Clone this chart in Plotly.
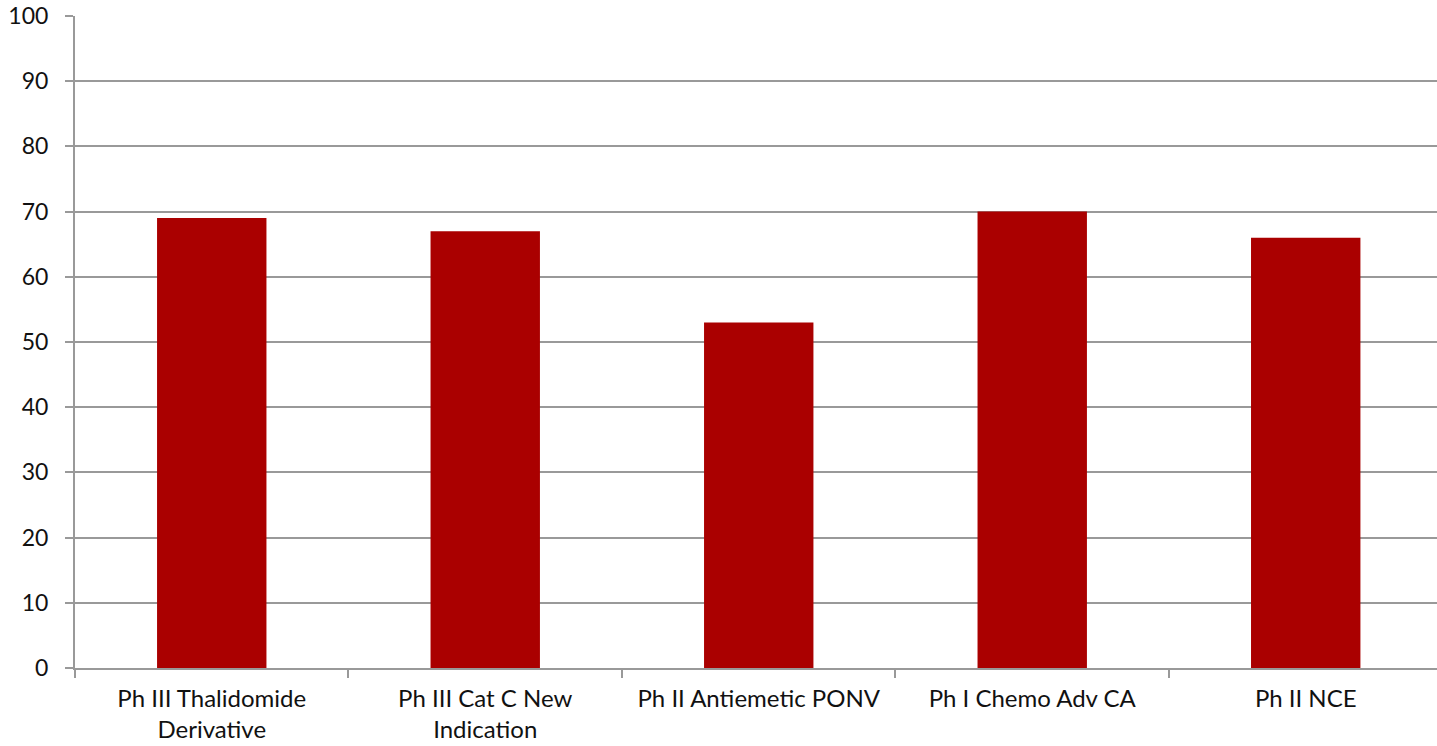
import plotly.graph_objects as go

categories = [
    "Ph III Thalidomide<br>Derivative",
    "Ph III Cat C New<br>Indication",
    "Ph II Antiemetic PONV",
    "Ph I Chemo Adv CA",
    "Ph II NCE",
]
values = [69, 67, 53, 70, 66]
y_ticks = [0, 10, 20, 30, 40, 50, 60, 70, 80, 90, 100]

grid_color = "#999999"
font_family = "Lato, 'Open Sans', sans-serif"

fig = go.Figure(
    go.Bar(
        x=categories,
        y=values,
        marker=dict(color="#aa0000", line=dict(width=0)),
    )
)

fig.update_layout(
    width=1437,
    height=746,
    margin=dict(l=75, r=0, t=16, b=78),
    plot_bgcolor="white",
    paper_bgcolor="white",
    bargap=0.6,
    showlegend=False,
    font=dict(family=font_family, size=22, color="#111111"),
)

fig.update_xaxes(
    type="category",
    range=[-0.5, 4.48],
    automargin=False,
    showgrid=False,
    showline=True,
    linecolor=grid_color,
    linewidth=2,
    ticks="outside",
    tickson="boundaries",
    ticklen=8,
    tickcolor=grid_color,
    tickwidth=2,
    tickfont=dict(size=24),
    ticklabelstandoff=8,
)

fig.update_yaxes(
    range=[0, 100],
    tickvals=y_ticks,
    automargin=False,
    showgrid=True,
    gridcolor=grid_color,
    gridwidth=2,
    showline=True,
    linecolor=grid_color,
    linewidth=2,
    ticks="outside",
    ticklen=8,
    tickcolor=grid_color,
    tickwidth=2,
    tickfont=dict(size=23),
    ticklabelstandoff=12,
    zeroline=False,
)

fig.write_html("out.html")
